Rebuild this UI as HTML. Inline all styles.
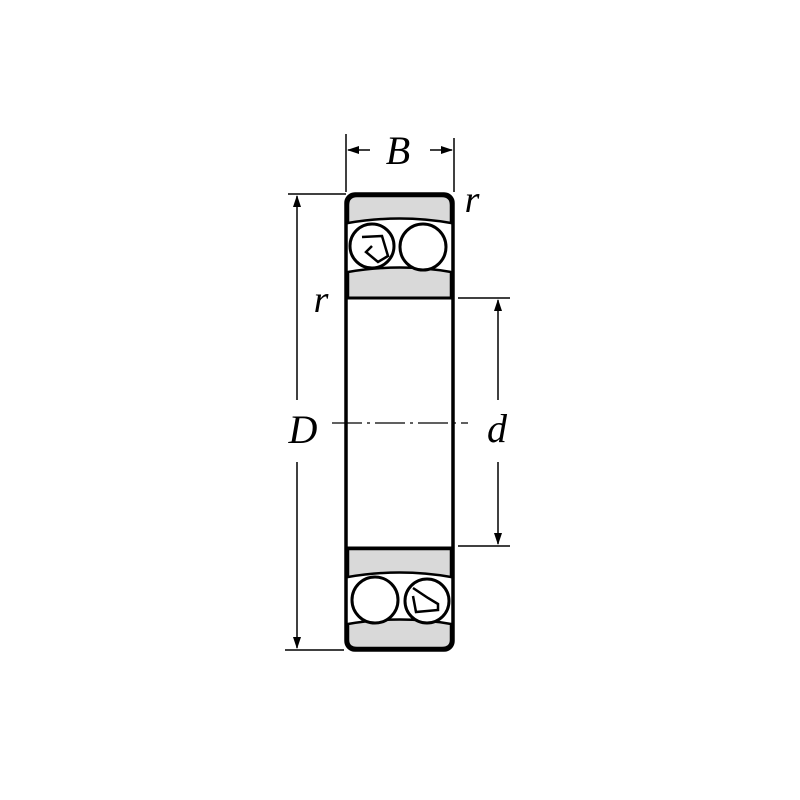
<!DOCTYPE html>
<html><head><meta charset="utf-8"><style>html,body{margin:0;padding:0;background:#fff}svg{display:block}</style></head>
<body>
<svg width="800" height="800" viewBox="0 0 800 800" xmlns="http://www.w3.org/2000/svg">
<defs>
<marker id="a" markerWidth="12" markerHeight="8" refX="11" refY="4" orient="auto" markerUnits="userSpaceOnUse"><path d="M0,0 L12,4 L0,8 z" fill="#000"/></marker>
</defs>
<g fill="none" stroke="#000">
<rect x="346" y="194" width="107" height="456" rx="9" stroke-width="3.5" fill="#fff"/>
<path d="M348,205 Q348,196 357,196 L442,196 Q451,196 451,205 L451,223 Q400,214 348,223 Z" fill="#d9d9d9" stroke-width="2.5"/>
<path d="M348,272 Q400,263 451,272 L451,298 L348,298 Z" fill="#d9d9d9" stroke-width="2.5"/>
<line x1="346" y1="298" x2="453" y2="298" stroke-width="3"/>
<circle cx="372" cy="246" r="22" fill="#fff" stroke-width="3"/>
<circle cx="423" cy="247" r="23" fill="#fff" stroke-width="3"/>
<path d="M362,237 L382,236 L388,256 L378,262 L366,252 L372,246" stroke-width="2.5"/>
<line x1="346" y1="548" x2="453" y2="548" stroke-width="3"/>
<path d="M348,549 L451,549 L451,577 Q400,568 348,577 Z" fill="#d9d9d9" stroke-width="2.5"/>
<path d="M348,624 Q400,615 451,624 L451,640 Q451,648 442,648 L357,648 Q348,648 348,640 Z" fill="#d9d9d9" stroke-width="2.5"/>
<circle cx="375" cy="600" r="23" fill="#fff" stroke-width="3"/>
<circle cx="427" cy="601" r="22" fill="#fff" stroke-width="3"/>
<path d="M413,588 L428,598 L438,604 L438,610 L416,612 L413,596" stroke-width="2.5"/>
<line x1="346" y1="134" x2="346" y2="192" stroke-width="1.5"/>
<line x1="454" y1="138" x2="454" y2="192" stroke-width="1.5"/>
<line x1="370" y1="150" x2="348" y2="150" stroke-width="1.5" marker-end="url(#a)"/>
<line x1="430" y1="150" x2="452" y2="150" stroke-width="1.5" marker-end="url(#a)"/>
<line x1="288" y1="194" x2="346" y2="194" stroke-width="1.5"/>
<line x1="285" y1="650" x2="344" y2="650" stroke-width="1.5"/>
<line x1="297" y1="400" x2="297" y2="196" stroke-width="1.5" marker-end="url(#a)"/>
<line x1="297" y1="462" x2="297" y2="648" stroke-width="1.5" marker-end="url(#a)"/>
<line x1="458" y1="298" x2="510" y2="298" stroke-width="1.5"/>
<line x1="458" y1="546" x2="510" y2="546" stroke-width="1.5"/>
<line x1="498" y1="400" x2="498" y2="300" stroke-width="1.5" marker-end="url(#a)"/>
<line x1="498" y1="462" x2="498" y2="544" stroke-width="1.5" marker-end="url(#a)"/>
<line x1="332" y1="423" x2="468" y2="423" stroke-width="1.2" stroke-dasharray="30,5,3,5"/>
</g>
<g font-family="'Liberation Serif',serif" font-style="italic" font-size="40" fill="#000">
<text x="398" y="164" text-anchor="middle">B</text>
<text x="303" y="443" text-anchor="middle">D</text>
<text x="497" y="442" text-anchor="middle">d</text>
<text x="472" y="212" text-anchor="middle" font-size="38">r</text>
<text x="321" y="312" text-anchor="middle" font-size="38">r</text>
</g>
</svg>
</body></html>
